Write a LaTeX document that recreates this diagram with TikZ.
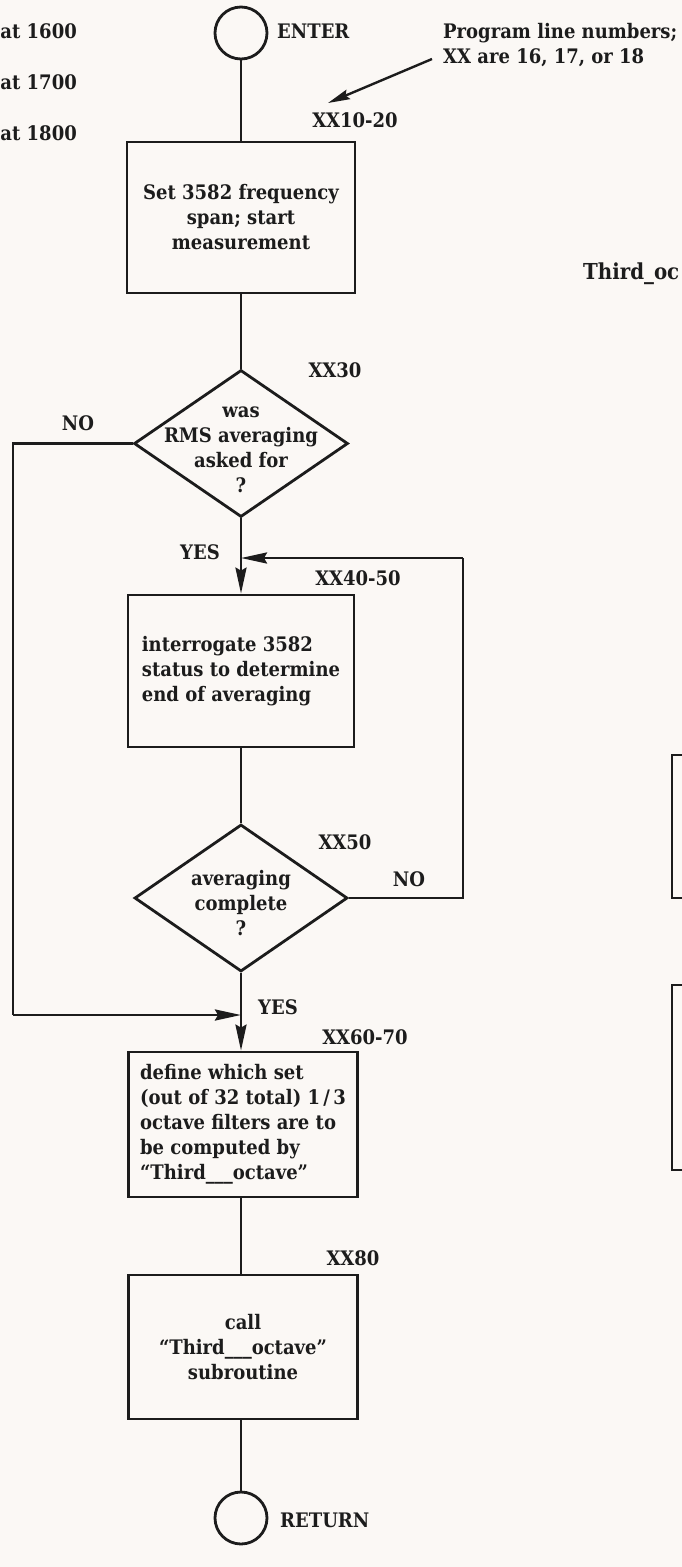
\documentclass[tikz,border=0pt]{standalone}
\usepackage{fontspec}
\setmainfont{DejaVu Serif}[FakeStretch=0.9]
\usetikzlibrary{shapes.geometric,arrows.meta}
\definecolor{paper}{RGB}{251,248,245}
\definecolor{ink}{RGB}{28,28,28}
\newcommand\diagfs{\fontsize{20}{25}\selectfont\bfseries}
\begin{document}
\begin{tikzpicture}[x=1pt,y=-1pt,
  lw/.style={line width=2.8pt},
  txt/.style={font=\diagfs, text=ink, inner sep=0pt},
  procbox/.style={draw=ink, lw, rectangle, inner sep=0pt, font=\diagfs, text=ink},
  decide/.style={draw=ink, lw, diamond, inner sep=0pt, aspect=1.45},
  term/.style={draw=ink, lw, circle, minimum size=52pt, inner sep=0pt},
  conn/.style={draw=ink, lw},
  arr/.style={conn, -{Stealth[length=26pt,width=11pt,inset=3pt]}},
  thinarr/.style={draw=ink, line width=2.4pt, -{Stealth[length=22pt,width=10pt,inset=3pt]}}
]
\useasboundingbox (0,0) rectangle (682,1567);
\fill[paper] (0,0) rectangle (682,1567);
\clip (0,0) rectangle (682,1567);

% texts at the page edges
\node[txt, anchor=east] (l1600) at (77,31) {at 1600};
\node[txt, anchor=east] (l1700) at (77,82) {at 1700};
\node[txt, anchor=east] (l1800) at (77,133) {at 1800};
\node[txt, anchor=west, font=\fontsize{22}{27}\selectfont\bfseries] (third) at (583,274) {Third\_oc};
\draw[ink, lw] (672,755) rectangle (700,898);
\draw[ink, lw] (672,985) rectangle (700,1170);

% main flow
\node[term] (enter) at (241,33) {};
\node[txt, anchor=west] (enterl) at (277,31) {ENTER};
\node[txt, anchor=west, align=left] (note) at (443,45) {Program line numbers;\\XX are 16, 17, or 18};
\node[txt] (x1020) at (355,120) {XX10-20};

\node[procbox, minimum width=228pt, minimum height=151pt, align=center] (box1) at (241,217.5)
  {Set 3582 frequency\\span; start\\measurement};

\node[decide, minimum width=214pt, minimum height=147pt] (d1) at (241,443.5) {};
\node[txt, align=center] (d1t) at (241,449.5) {was\\RMS averaging\\asked for\\?};
\node[txt] (x30) at (335,370) {XX30};
\node[txt] (no1) at (78,423) {NO};
\node[txt] (yes1) at (200,552) {YES};

\node[procbox, minimum width=226pt, minimum height=152pt, align=left] (box2) at (241,671)
  {interrogate 3582\\status to determine\\end of averaging};
\node[txt] (x4050) at (358,578) {XX40-50};

\node[decide, minimum width=213pt, minimum height=147pt] (d2) at (241,898) {};
\node[txt, align=center] (d2t) at (241,903) {averaging\\complete\\?};
\node[txt] (x50) at (345,842) {XX50};
\node[txt] (no2) at (409,879) {NO};
\node[txt] (yes2) at (278,1007) {YES};

\node[procbox, minimum width=229pt, minimum height=145pt, align=left] (box3) at (243,1124.5)
  {define which set\\(out of 32 total) 1\,/\,3\\octave filters are to\\be computed by\\“Third\_\_\_octave”};
\node[txt] (x6070) at (365,1037) {XX60-70};

\node[procbox, minimum width=229pt, minimum height=144pt, align=center] (box4) at (243,1347)
  {call\\“Third\_\_\_octave”\\subroutine};
\node[txt] (x80) at (353,1258) {XX80};

\node[term] (ret) at (241,1518) {};
\node[txt, anchor=west] (retl) at (280,1520) {RETURN};

% junctions and bends
\coordinate (j1) at (241,558);
\coordinate (j2) at (241,1015);
\coordinate (lefttop) at (13,443.5);
\coordinate (leftbot) at (13,1015);
\coordinate (righttop) at (463,558);
\coordinate (rightbot) at (463,898);
\coordinate (notestart) at (432,59);
\coordinate (notetip) at (328,103);

% connectors
\draw[conn] (enter.south) -- (box1.north);
\draw[conn] (box1.south) -- (d1.north);
\draw[arr] (d1.south) -- (d1.south |- box2.north);
\draw[conn, line join=miter] (d1.west) -- (lefttop) -- (leftbot);
\draw[arr] (leftbot) -- (j2);
\draw[conn] (box2.south) -- (d2.north);
\draw[conn, line join=miter] (d2.east) -- (rightbot) -- (righttop);
\draw[arr] (righttop) -- (j1);
\draw[arr] (d2.south) -- (d2.south |- box3.north);
\draw[conn] (box3.south -| d2.south) -- (box4.north -| d2.south);
\draw[conn] (box4.south -| ret.south) -- (ret.north);
\draw[thinarr] (notestart) -- (notetip);
\end{tikzpicture}
\end{document}
